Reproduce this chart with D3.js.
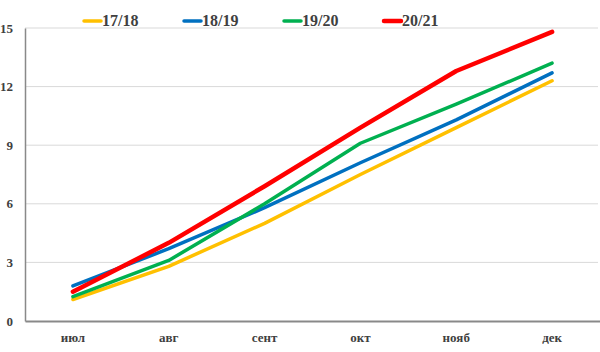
<!DOCTYPE html>
<html>
<head>
<meta charset="utf-8">
<script src="https://cdn.jsdelivr.net/npm/d3@7"></script>
<style>
  body { margin: 0; background: #fff; }
</style>
</head>
<body>
<div id="canvas"></div>
<script>
"use strict"

/* Data */
let months = ["июл", "авг", "сент", "окт", "нояб", "дек"];
let seasons = ["17/18", "18/19", "19/20", "20/21"];
let colors = ["#FFC000", "#0070C0", "#00B050", "#FF0000"];
let s1718 = [1.1, 2.8, 5.0, 7.5, 9.9, 12.3];
let s1819 = [1.8, 3.7, 5.8, 8.1, 10.3, 12.7];
let s1920 = [1.25, 3.1, 6.0, 9.1, 11.1, 13.2];
let s2021 = [1.5, 4.0, 6.9, 9.9, 12.8, 14.8];
let yTicks = [0, 3, 6, 9, 12, 15];

let series = [s1718, s1819, s1920, s2021];

/* Drawing config */
let svgWidth = 600;
let svgHeight = 352;
let plotLeft = 25, plotRight = 600, plotTop = 28, plotBottom = 321;
let fontFam = "'Liberation Serif', 'Times New Roman', 'DejaVu Serif', serif";

let svg = d3.select("#canvas")
    .append("svg")
    .attr("width", svgWidth)
    .attr("height", svgHeight);

let xScale = d3.scaleBand()
    .domain(months)
    .range([plotLeft, plotRight]);

let yScale = d3.scaleLinear()
    .domain([0, 15])
    .range([plotBottom, plotTop]);

// gridlines
svg.selectAll("line.grid")
  .data(yTicks.filter(function(d){ return d > 0; }))
  .enter()
  .append("line")
  .attr("class", "grid")
  .attr("x1", plotLeft)
  .attr("x2", plotRight - 2)
  .attr("y1", function(d){ return yScale(d); })
  .attr("y2", function(d){ return yScale(d); })
  .attr("stroke", "#d9d9d9")
  .attr("stroke-width", 1);

// y axis
let yAxis = svg.append("g")
  .attr("transform", "translate(" + plotLeft + ",0)")
  .call(d3.axisLeft(yScale).tickValues(yTicks).tickSize(0).tickPadding(12));
yAxis.attr("font-family", fontFam).attr("font-weight", "bold").attr("font-size", 13);
yAxis.select(".domain").attr("stroke", "#898989").attr("stroke-width", 1.5);
yAxis.selectAll("text").attr("fill", "#404040");

// x axis
let xAxis = svg.append("g")
  .attr("transform", "translate(0," + plotBottom + ")")
  .call(d3.axisBottom(xScale).tickSize(0).tickPadding(12));
xAxis.attr("font-family", fontFam).attr("font-weight", "bold").attr("font-size", 13);
xAxis.select(".domain").attr("stroke", "#898989").attr("stroke-width", 2);
xAxis.selectAll("text").attr("fill", "#404040");

// lines
let line = d3.line()
  .x(function(d, i){ return xScale(months[i]) + xScale.bandwidth() / 2; })
  .y(function(d){ return yScale(d); });

for (let i = 0; i < series.length; i = i + 1) {
  svg.append("path")
    .attr("d", line(series[i]))
    .attr("fill", "none")
    .attr("stroke", colors[i])
    .attr("stroke-width", i === 3 ? 4.5 : 3.5)
    .attr("stroke-linecap", "round")
    .attr("stroke-linejoin", "round");
}

// legend
let legendX = 84, legendY = 19, legendStep = 100;
for (let i = 0; i < seasons.length; i = i + 1) {
  svg.append("line")
    .attr("x1", legendX + i * legendStep)
    .attr("x2", legendX + i * legendStep + 17)
    .attr("y1", legendY + 2)
    .attr("y2", legendY + 2)
    .attr("stroke", colors[i])
    .attr("stroke-width", i === 3 ? 4.5 : 3.5)
    .attr("stroke-linecap", "round");
  svg.append("text")
    .attr("x", legendX + i * legendStep + 18)
    .attr("y", legendY + 7)
    .attr("font-family", fontFam)
    .attr("font-weight", "bold")
    .attr("font-size", "16px")
    .attr("fill", "#404040")
    .text(seasons[i]);
}
</script>
</body>
</html>
